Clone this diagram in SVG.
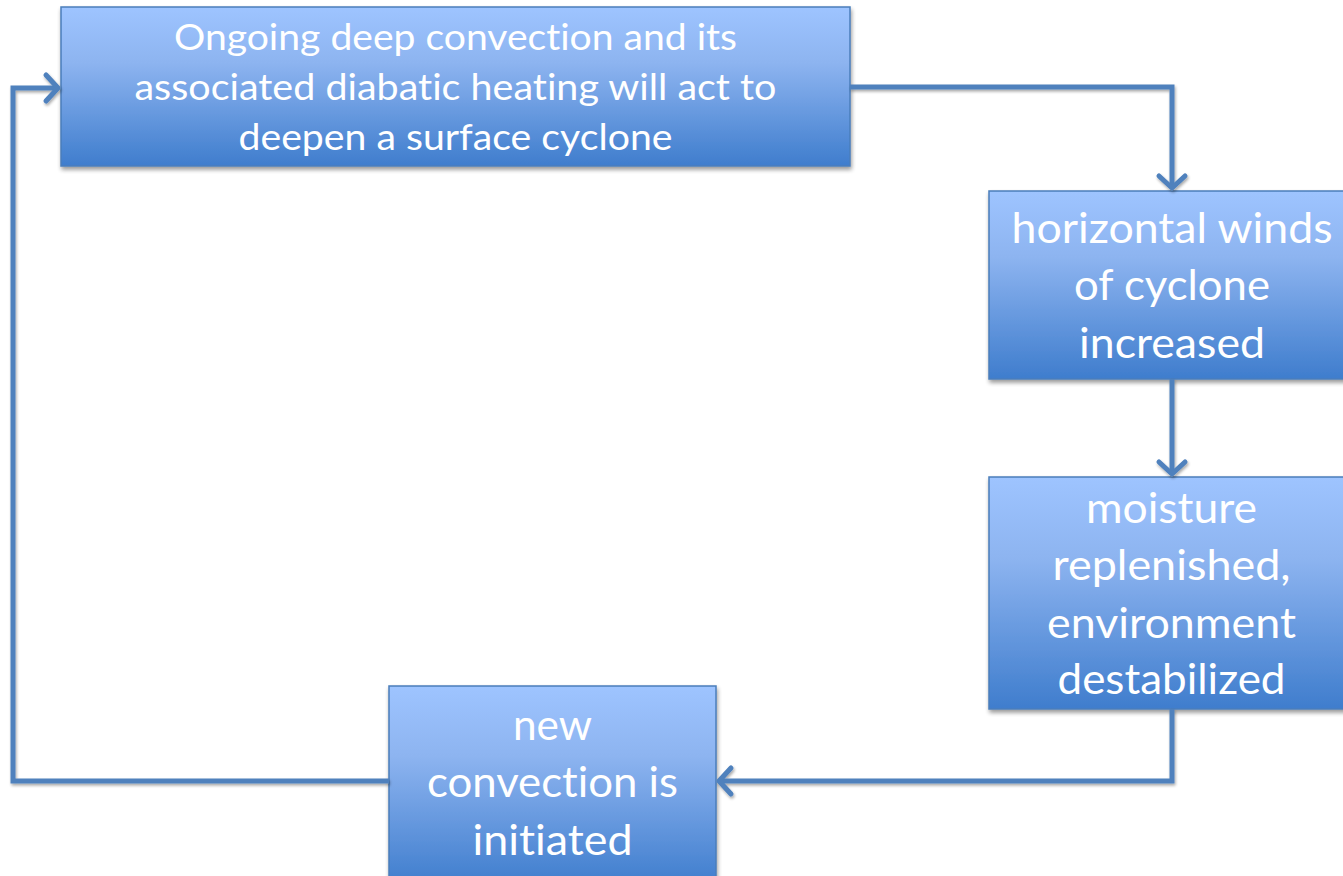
<svg xmlns="http://www.w3.org/2000/svg" width="1343" height="876" viewBox="0 0 1343 876">
<style>
.box{fill:url(#g);stroke:#4a7ebb;stroke-width:1.5;filter:url(#sh)}
.t{font-family:Lato,"Open Sans","Liberation Sans",sans-serif;fill:#fff;text-anchor:middle;font-variant-ligatures:none}
.t1{font-size:37px}
.t2{font-size:43px}
.c{fill:none;stroke:#4f81bd;stroke-width:5;stroke-linejoin:miter;filter:url(#sh2)}
</style>
<defs>
<linearGradient id="g" x1="0" y1="0" x2="0" y2="1">
<stop offset="0" stop-color="#9ec4ff"/>
<stop offset="0.35" stop-color="#8db4f0"/>
<stop offset="1" stop-color="#3f7dcd"/>
</linearGradient>
<filter id="sh" filterUnits="userSpaceOnUse" x="0" y="0" width="1343" height="876">
<feGaussianBlur in="SourceAlpha" stdDeviation="2"/>
<feOffset dx="1" dy="3" result="b"/>
<feComponentTransfer><feFuncA type="linear" slope="0.4"/></feComponentTransfer>
<feMerge><feMergeNode/><feMergeNode in="SourceGraphic"/></feMerge>
</filter>
<filter id="sh2" filterUnits="userSpaceOnUse" x="0" y="0" width="1343" height="876">
<feGaussianBlur in="SourceAlpha" stdDeviation="1.5"/>
<feOffset dx="1" dy="2"/>
<feComponentTransfer><feFuncA type="linear" slope="0.35"/></feComponentTransfer>
<feMerge><feMergeNode/><feMergeNode in="SourceGraphic"/></feMerge>
</filter>
<marker id="a" markerUnits="userSpaceOnUse" markerWidth="40" markerHeight="40" viewBox="-20 -20 40 40" refX="0" refY="0" orient="auto">
<path d="M-12,-13 L0,0 L-12,13" fill="none" stroke="#4f81bd" stroke-width="5" stroke-linecap="round" stroke-linejoin="round"/>
</marker>
</defs>
<rect width="1343" height="876" fill="#fff"/>

<g id="n1">
<rect class="box" x="61" y="7" width="789" height="159"/>
<text class="t t1" x="455.5" y="50" textLength="563" lengthAdjust="spacingAndGlyphs">Ongoing deep convection and its</text>
<text class="t t1" x="455.5" y="100" textLength="642" lengthAdjust="spacingAndGlyphs">associated diabatic heating will act to</text>
<text class="t t1" x="455.5" y="150" textLength="434" lengthAdjust="spacingAndGlyphs">deepen a surface cyclone</text>
</g>

<g id="n2">
<rect class="box" x="989" y="191" width="366" height="188"/>
<text class="t t2" x="1172" y="243" textLength="321" lengthAdjust="spacingAndGlyphs">horizontal winds</text>
<text class="t t2" x="1172" y="300" textLength="196" lengthAdjust="spacingAndGlyphs">of cyclone</text>
<text class="t t2" x="1172" y="358" textLength="186" lengthAdjust="spacingAndGlyphs">increased</text>
</g>

<g id="n3">
<rect class="box" x="989" y="477" width="366" height="232"/>
<text class="t t2" x="1171.5" y="523" textLength="171" lengthAdjust="spacingAndGlyphs">moisture</text>
<text class="t t2" x="1171.5" y="580" textLength="238" lengthAdjust="spacingAndGlyphs">replenished,</text>
<text class="t t2" x="1171.5" y="638" textLength="249" lengthAdjust="spacingAndGlyphs">environment</text>
<text class="t t2" x="1171.5" y="694" textLength="228" lengthAdjust="spacingAndGlyphs">destabilized</text>
</g>

<g id="n4">
<rect class="box" x="389" y="686" width="327" height="200"/>
<text class="t t2" x="552.5" y="740" textLength="79" lengthAdjust="spacingAndGlyphs">new</text>
<text class="t t2" x="552.5" y="797" textLength="251" lengthAdjust="spacingAndGlyphs">convection is</text>
<text class="t t2" x="552.5" y="855" textLength="160" lengthAdjust="spacingAndGlyphs">initiated</text>
</g>

<g id="connectors">
<path class="c" d="M850,87 H1172 V188" marker-end="url(#a)"/>
<path class="c" d="M1172,379 V474" marker-end="url(#a)"/>
<path class="c" d="M1172,709 V781 H719" marker-end="url(#a)"/>
<path class="c" d="M389,781 H13 V88 H58" marker-end="url(#a)"/>
</g>
</svg>
